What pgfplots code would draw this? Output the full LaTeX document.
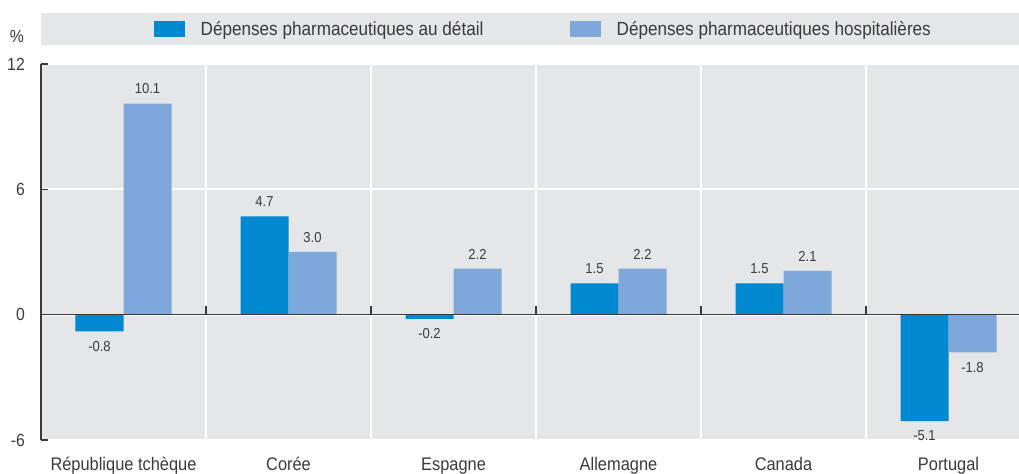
\documentclass[border=0pt]{standalone}
\usepackage{fontspec}
\setmainfont{Liberation Sans}[FakeStretch=0.9]
\usepackage{pgfplots}
\pgfplotsset{compat=1.18}
\pgfplotsset{/pgf/number format/assume math mode=true}
\definecolor{darkb}{HTML}{0088D0}
\definecolor{lightb}{HTML}{7FA8DA}
\definecolor{bggray}{HTML}{E5E6E8}
\definecolor{txt}{HTML}{3A3A3A}
\begin{document}
\begin{tikzpicture}
\path[use as bounding box] (0bp,0bp) rectangle (1019bp,474bp);
% legend band
\fill[bggray] (41bp,429bp) rectangle (1019bp,460.5bp);
\fill[darkb] (154bp,437bp) rectangle (185bp,453bp);
\node[anchor=base west, inner sep=0pt, font=\fontsize{19.1}{22}\selectfont, text=txt] at (200.5bp,438bp) {Dépenses pharmaceutiques au détail};
\fill[lightb] (570bp,437bp) rectangle (601bp,453bp);
\node[anchor=base west, inner sep=0pt, font=\fontsize{19.1}{22}\selectfont, text=txt] at (616.5bp,438bp) {Dépenses pharmaceutiques hospitalières};
\node[anchor=base, inner sep=0pt, font=\fontsize{17.6}{20}\selectfont, text=txt] at (17bp,431bp) {\%};
\begin{axis}[
  at={(41bp,34bp)}, anchor=south west,
  scale only axis, width=990bp, height=376bp,
  clip=false,
  ybar=0pt, bar width=48bp,
  xmin=-0.5, xmax=5.5, ymin=-6, ymax=12,
  ytick={-6,0,6,12},
  xtick={0,1,2,3,4,5},
  xticklabels={République tchèque, Corée, Espagne, Allemagne, Canada, Portugal},
  minor xtick={0.5,1.5,2.5,3.5,4.5,5.5},
  xminorgrids, ymajorgrids,
  minor x grid style={white, line width=2bp},
  major y grid style={white, line width=2bp},
  axis background/.style={fill=bggray},
  axis line style={draw=none},
  xtick style={draw=none},
  minor tick style={draw=none},
  tick align=inside,
  ytick pos=left,
  major tick length=7bp,
  ytick style={draw=txt, line width=1.5bp},
  yticklabel style={anchor=east, inner sep=0pt, xshift=-16bp, font=\fontsize{17.6}{20}\selectfont, text=txt},
  xticklabel style={anchor=north, inner sep=0pt, yshift=-17bp, text height=12.9bp, text depth=4bp, font=\fontsize{18.3}{20}\selectfont, text=txt},
  visualization depends on={y \as \rawy},
  nodes near coords={\pgfmathprintnumber[fixed,fixed zerofill,precision=1]{\pgfplotspointmeta}},
  every node near coord/.append style={font=\fontsize{14.5}{17}\selectfont, text=txt, inner sep=9.5bp, anchor=\ifdim\rawy pt<0pt north\else south\fi},
]
\addplot[draw=none, fill=darkb] coordinates {(0,-0.8) (1,4.7) (2,-0.2) (3,1.5) (4,1.5) (5,-5.1)};
\addplot[draw=none, fill=lightb] coordinates {(0,10.1) (1,3.0) (2,2.2) (3,2.2) (4,2.1) (5,-1.8)};
\end{axis}
% zero line, left axis line and separator ticks (decoration)
\draw[txt, line width=1.6bp] (41bp,159.333bp) -- (1031bp,159.333bp);
\draw[txt, line width=1.5bp] (41bp,34bp) -- (41bp,410bp);
\foreach \xx in {206,371,536,701,866}{
  \draw[txt, line width=1.3bp] (\xx bp,159.333bp) -- (\xx bp,167.5bp);
}
\end{tikzpicture}
\end{document}
